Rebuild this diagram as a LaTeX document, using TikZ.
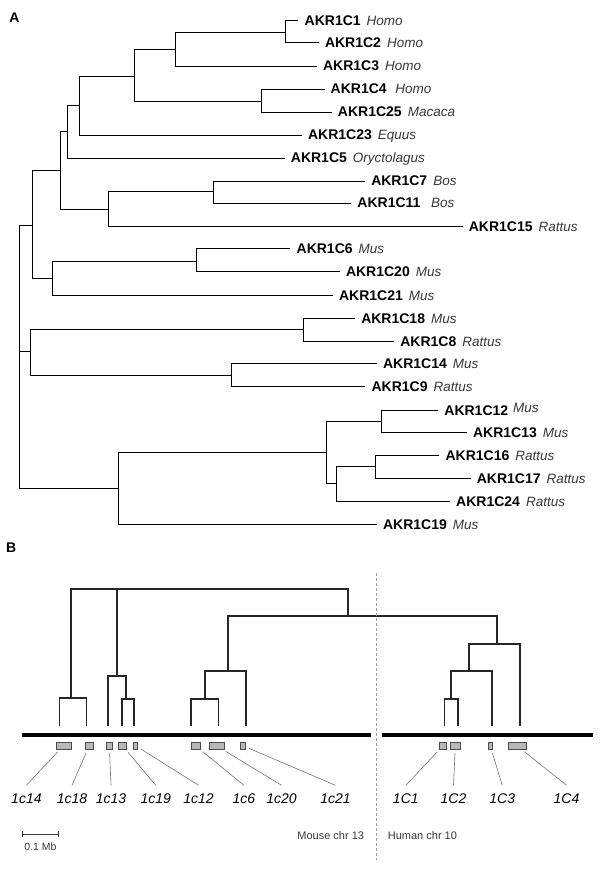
\documentclass[tikz,border=0pt]{standalone}
\usepackage{fontspec}
\setmainfont{Liberation Sans}
\usepackage{xcolor}
\definecolor{spgray}{rgb}{0.22,0.22,0.22}
\definecolor{boxgray}{rgb}{0.72,0.72,0.72}
\definecolor{leadgray}{rgb}{0.45,0.45,0.45}
\usetikzlibrary{arrows.meta}
\newcommand{\gene}[3][6pt]{\textbf{#2}\hspace{#1}{\color{spgray}\fontsize{13.5}{15}\selectfont\itshape #3}}

\begin{document}
\begin{tikzpicture}[x=1.148pt, y=-1pt,
      leaf/.style={anchor=west, inner xsep=6pt, inner ysep=0pt,
                   text height=10pt, text depth=0pt,
                   font=\fontsize{14}{16}\selectfont},
      br/.style={line width=0.9pt},
      dend/.style={line width=1.7pt, color=black!85},
      chr/.style={line width=4.7pt},
      genebox/.style={draw=black!70, fill=boxgray, line width=0.6pt,
                      inner sep=0pt, minimum height=7pt},
      chrlab/.style={anchor=base, inner sep=0pt, text height=17.5pt, text depth=0pt,
                     font=\fontsize{14}{16}\selectfont\itshape},
      lead/.style={color=leadgray, line width=0.6pt, shorten <=3.5pt},
      small/.style={inner sep=0pt, color=spgray, font=\fontsize{11}{13}\selectfont},
      panel/.style={inner sep=0pt, font=\fontsize{14}{16}\selectfont\bfseries}
  ]
    \useasboundingbox (0,0) rectangle (522.6,882);

    % A
    \node[panel] (pa) at (12.5,17.7) {A};

    \node[leaf] (c1)  at (260,20.7)   {\gene{AKR1C1}{Homo}};
    \node[leaf] (c2)  at (277.7,42.7) {\gene{AKR1C2}{Homo}};
    \node[leaf] (c3)  at (276,66)     {\gene{AKR1C3}{Homo}};
    \node[leaf] (c4)  at (282.7,89)   {\gene[8.5pt]{AKR1C4}{Homo}};
    \node[leaf] (c25) at (289,112)    {\gene{AKR1C25}{Macaca}};
    \node[leaf] (c23) at (263,135)    {\gene{AKR1C23}{Equus}};
    \node[leaf] (c5)  at (248,158)    {\gene{AKR1C5}{Oryctolagus}};
    \node[leaf] (c7)  at (318,181)    {\gene{AKR1C7}{Bos}};
    \node[leaf] (c11) at (306,203)    {\gene[10.5pt]{AKR1C11}{Bos}};
    \node[leaf] (c15) at (403,226.3)  {\gene{AKR1C15}{Rattus}};
    \node[leaf] (c6)  at (253,248.3)  {\gene{AKR1C6}{Mus}};
    \node[leaf] (c20) at (296,271.7)  {\gene{AKR1C20}{Mus}};
    \node[leaf] (c21) at (290,295)    {\gene{AKR1C21}{Mus}};
    \node[leaf] (c18) at (309.3,318.3){\gene{AKR1C18}{Mus}};
    \node[leaf] (c8)  at (343.3,341)  {\gene{AKR1C8}{Rattus}};
    \node[leaf] (c14) at (328.3,363.3){\gene{AKR1C14}{Mus}};
    \node[leaf] (c9)  at (318.3,386)  {\gene{AKR1C9}{Rattus}};
    \node[leaf] (c12) at (381.7,410)  {\gene[5pt]{AKR1C12}{\raisebox{3pt}{Mus}}};
    \node[leaf] (c13) at (406.7,432.3){\gene{AKR1C13}{Mus}};
    \node[leaf] (c16) at (382.7,455.7){\gene{AKR1C16}{Rattus}};
    \node[leaf] (c17) at (410,478.3)  {\gene{AKR1C17}{Rattus}};
    \node[leaf] (c24) at (392,501)    {\gene{AKR1C24}{Rattus}};
    \node[leaf] (c19) at (328.3,524.3){\gene{AKR1C19}{Mus}};

    \coordinate (a1)  at (249,32.3);
    \coordinate (a2)  at (153,49);
    \coordinate (a3)  at (228,101);
    \coordinate (a4)  at (116.7,76);
    \coordinate (a5)  at (69.3,105.3);
    \coordinate (a6)  at (59,131.3);
    \coordinate (a7)  at (186,191.7);
    \coordinate (a8)  at (94.7,209);
    \coordinate (a9)  at (53,170.3);
    \coordinate (a10) at (171.3,261.3);
    \coordinate (a11) at (45.3,278.3);
    \coordinate (a12) at (28.7,225);
    \coordinate (a13) at (264.3,329.3);
    \coordinate (a14) at (201.7,375.3);
    \coordinate (a15) at (26.3,351.7);
    \coordinate (a16) at (332.3,421.3);
    \coordinate (a17) at (327.3,466.7);
    \coordinate (a18) at (293,483.3);
    \coordinate (a19) at (284.3,452.7);
    \coordinate (a20) at (103.3,488.3);
    \coordinate (root) at (17.3,356.6);

    \draw[br] (a1) |- (c1.west)  (a1) |- (c2.west);
    \draw[br] (a2) |- (a1)       (a2) |- (c3.west);
    \draw[br] (a3) |- (c4.west)  (a3) |- (c25.west);
    \draw[br] (a4) |- (a2)       (a4) |- (a3);
    \draw[br] (a5) |- (a4)       (a5) |- (c23.west);
    \draw[br] (a6) |- (a5)       (a6) |- (c5.west);
    \draw[br] (a7) |- (c7.west)  (a7) |- (c11.west);
    \draw[br] (a8) |- (a7)       (a8) |- (c15.west);
    \draw[br] (a9) |- (a6)       (a9) |- (a8);
    \draw[br] (a10) |- (c6.west) (a10) |- (c20.west);
    \draw[br] (a11) |- (a10)     (a11) |- (c21.west);
    \draw[br] (a12) |- (a9)      (a12) |- (a11);
    \draw[br] (a13) |- (c18.west) (a13) |- (c8.west);
    \draw[br] (a14) |- (c14.west) (a14) |- (c9.west);
    \draw[br] (a15) |- (a13)     (a15) |- (a14);
    \draw[br] (a16) |- (c12.west) (a16) |- (c13.west);
    \draw[br] (a17) |- (c16.west) (a17) |- (c17.west);
    \draw[br] (a18) |- (a17)     (a18) |- (c24.west);
    \draw[br] (a19) |- (a16)     (a19) |- (a18);
    \draw[br] (a20) |- (a19)     (a20) |- (c19.west);
    \draw[br] (root) |- (a12) (root) |- (a15) (root) |- (a20);

    % B
    \node[panel] (pb) at (9.8,548) {B};

    \coordinate (t14) at (51.7,725.7);
    \coordinate (t18) at (75.3,725.7);
    \coordinate (t13) at (94.3,725.7);
    \coordinate (t19) at (106.3,725.7);
    \coordinate (t12) at (116.7,725.7);
    \coordinate (t6)  at (166.3,725.7);
    \coordinate (t20) at (190.3,725.7);
    \coordinate (t21) at (214,725.7);
    \coordinate (T1)  at (387.3,725.7);
    \coordinate (T2)  at (398.7,725.7);
    \coordinate (T3)  at (428.3,725.7);
    \coordinate (T4)  at (452.7,725.7);

    \coordinate (k1) at (61.7,698.3);
    \coordinate (k2) at (110,699);
    \coordinate (k3) at (101.7,675.7);
    \coordinate (k4) at (178.7,699);
    \coordinate (k5) at (198.3,671);
    \coordinate (h1) at (392.7,699);
    \coordinate (h2) at (408.3,671);
    \coordinate (h3) at (432.7,643.7);
    \coordinate (k6) at (303.3,616);
    \coordinate (k0) at (182,589);

    \draw[dend] (k1) -| (t14) (k1) -| (t18);
    \draw[dend] (k2) -| (t19) (k2) -| (t12);
    \draw[dend] (k3) -| (t13) (k3) -| (k2);
    \draw[dend] (k4) -| (t6)  (k4) -| (t20);
    \draw[dend] (k5) -| (k4)  (k5) -| (t21);
    \draw[dend] (h1) -| (T1)  (h1) -| (T2);
    \draw[dend] (h2) -| (h1)  (h2) -| (T3);
    \draw[dend] (h3) -| (h2)  (h3) -| (T4);
    \draw[dend] (k6) -| (k5)  (k6) -| (h3);
    \draw[dend] (k0) -| (k1) (k0) -| (k3) (k0) -| (k6);

    \coordinate (dtop) at (328.3,573);
    \coordinate (dbot) at (328.3,860);
    \draw[gray!75, line width=0.8pt, dash pattern=on 3pt off 2pt] (dtop) -- (dbot);

    \coordinate (ms) at (19,735);
    \coordinate (me) at (323.3,735);
    \coordinate (hs) at (332.7,735);
    \coordinate (he) at (516.7,735);
    \draw[chr] (ms) -- (me);
    \draw[chr] (hs) -- (he);

    \node[genebox, minimum width=14.9pt] (g14) at (55.2,745.8)  {};
    \node[genebox, minimum width=7.7pt]  (g18) at (77.7,745.8)  {};
    \node[genebox, minimum width=5.7pt]  (g13) at (95.2,745.8)  {};
    \node[genebox, minimum width=8pt]    (g19) at (106.8,745.8) {};
    \node[genebox, minimum width=4.2pt]  (g12) at (118.2,745.8) {};
    \node[genebox, minimum width=9.2pt]  (g6)  at (170.3,745.8) {};
    \node[genebox, minimum width=14.6pt] (g20) at (188.7,745.8) {};
    \node[genebox, minimum width=4.6pt]  (g21) at (211.7,745.8) {};
    \node[genebox, minimum width=7.2pt]  (G1)  at (385.9,745.8) {};
    \node[genebox, minimum width=10.7pt] (G2)  at (396.7,745.8) {};
    \node[genebox, minimum width=4.6pt]  (G3)  at (427,745.8)   {};
    \node[genebox, minimum width=17.6pt] (G4)  at (450.4,745.8) {};

    \node[chrlab] (l14) at (23,803)    {1c14};
    \node[chrlab] (l18) at (62.7,803)  {1c18};
    \node[chrlab] (l13) at (96.7,803)  {1c13};
    \node[chrlab] (l19) at (135.7,803) {1c19};
    \node[chrlab] (l12) at (173,803)   {1c12};
    \node[chrlab] (l6)  at (212.5,803) {1c6};
    \node[chrlab] (l20) at (245.3,803) {1c20};
    \node[chrlab] (l21) at (292.2,803) {1c21};
    \node[chrlab] (L1)  at (353.5,803) {1C1};
    \node[chrlab] (L2)  at (395,803)   {1C2};
    \node[chrlab] (L3)  at (437.5,803) {1C3};
    \node[chrlab] (L4)  at (493.5,803) {1C4};

    \draw[lead] (g14) -- (l14.north);
    \draw[lead] (g18) -- (l18.north);
    \draw[lead] (g13) -- (l13.north);
    \draw[lead] (g19) -- (l19.north);
    \draw[lead] (g12) -- (l12.north);
    \draw[lead] (g6)  -- (l6.north);
    \draw[lead] (g20) -- (l20.north);
    \draw[lead] (g21) -- (l21.north);
    \draw[lead] (G1)  -- (L1.north);
    \draw[lead] (G2)  -- (L2.north);
    \draw[lead] (G3)  -- (L3.north);
    \draw[lead] (G4)  -- (L4.north);

    \coordinate (s0) at (19,834);
    \coordinate (s1) at (50.7,834);
    \draw[spgray, line width=0.6pt, {Bar[width=6pt]}-{Bar[width=6pt]}] (s0) -- (s1);
    \node[small, font=\fontsize{10.5}{12}\selectfont] (sb) at (35.3,846.7) {0.1 Mb};
    \node[small, anchor=east] (mchr) at (317.3,836) {Mouse chr 13};
    \node[small, anchor=west] (hchr) at (337.7,836) {Human chr 10};
  \end{tikzpicture}
\end{document}
